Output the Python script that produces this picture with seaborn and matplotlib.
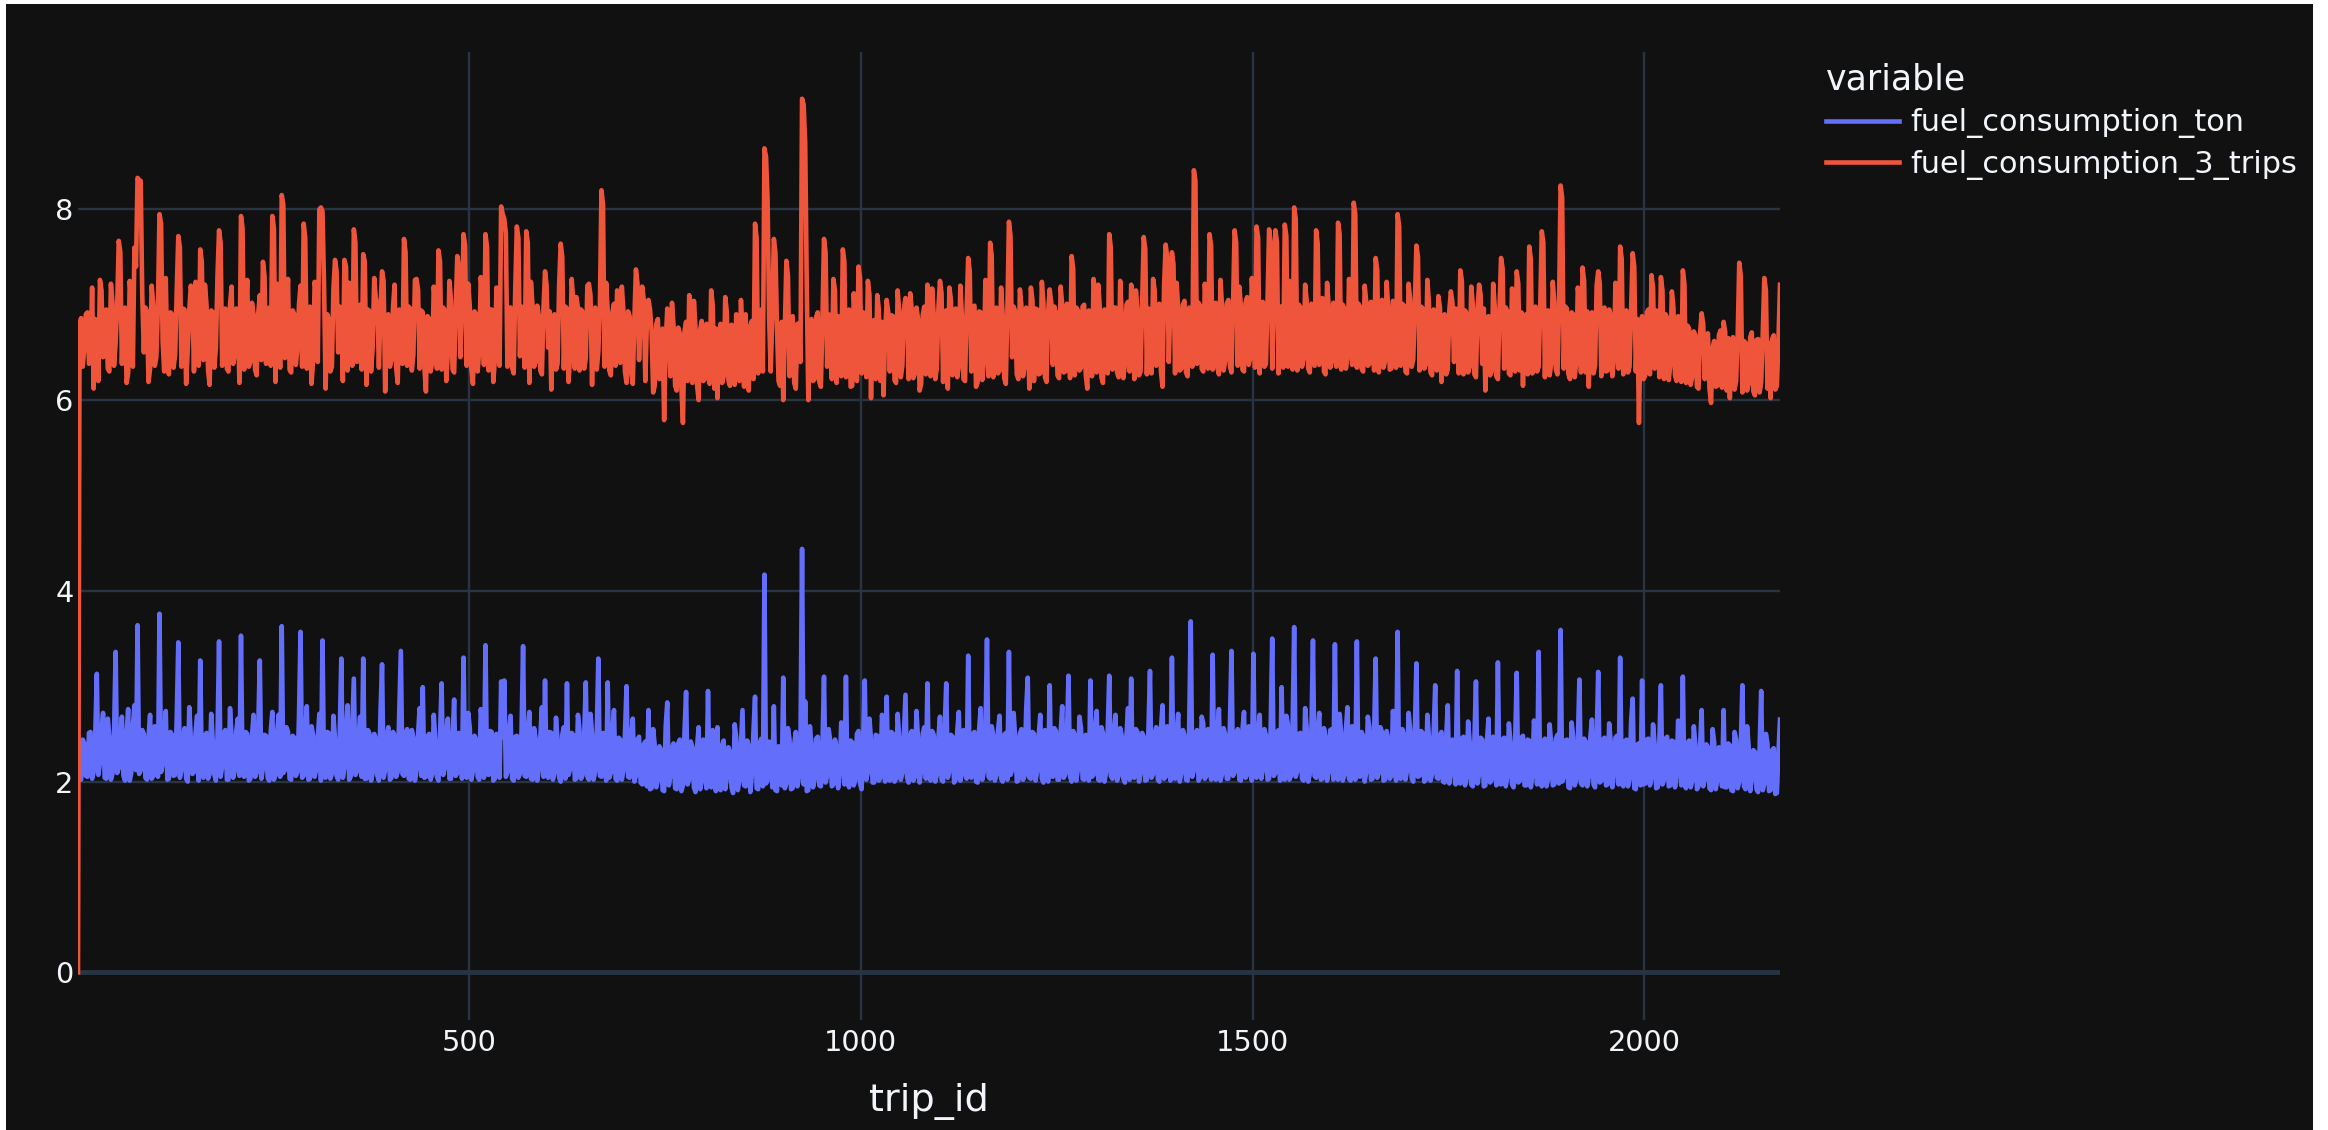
import matplotlib
matplotlib.use("Agg")
import matplotlib.pyplot as plt
from matplotlib.patches import Rectangle
import pandas as pd
import seaborn as sns

# trip ids sampled every 2 trips
trip_id = list(range(1, 2174, 2))

fuel_consumption_ton = [
    2.46, 2.05, 2.02, 2.44, 2.40, 2.06, 2.05, 2.51, 2.52, 2.03, 2.10, 2.48, 3.13, 2.07, 2.20, 2.53, 2.72, 2.04, 2.03, 2.66, 2.47, 2.02, 2.08, 2.50, 3.36, 2.09, 2.14, 2.45, 2.68, 2.06, 2.01, 2.49, 2.76, 2.01, 2.09, 2.57, 2.80, 2.12, 3.64, 2.08,
    2.12, 2.54, 2.50, 2.04, 2.02, 2.47, 2.70, 2.03, 2.06, 2.58, 2.44, 2.05, 3.76, 2.10, 2.18, 2.49, 2.74, 2.02, 2.03, 2.52, 2.49, 2.06, 2.07, 2.67, 3.46, 2.04, 2.12, 2.47, 2.56, 2.03, 2.00, 2.78, 2.45, 2.08, 2.10, 2.51, 2.69, 2.01, 3.27, 2.11,
    2.04, 2.48, 2.51, 2.03, 2.08, 2.71, 2.42, 2.07, 2.01, 2.46, 3.47, 2.05, 2.16, 2.50, 2.54, 2.02, 2.02, 2.77, 2.47, 2.04, 2.11, 2.53, 2.66, 2.06, 3.53, 2.08, 2.05, 2.52, 2.50, 2.01, 2.03, 2.47, 2.70, 2.05, 2.09, 2.56, 3.27, 2.03, 2.14, 2.49,
    2.48, 2.04, 2.01, 2.53, 2.73, 2.02, 2.07, 2.50, 2.70, 2.05, 3.63, 2.09, 2.12, 2.57, 2.52, 2.03, 2.02, 2.48, 2.46, 2.06, 2.10, 2.68, 3.57, 2.04, 2.06, 2.51, 2.79, 2.02, 2.03, 2.58, 2.49, 2.05, 2.13, 2.46, 2.71, 2.01, 3.48, 2.07, 2.04, 2.52,
    2.51, 2.03, 2.08, 2.69, 2.44, 2.06, 2.02, 2.49, 3.29, 2.04, 2.15, 2.52, 2.80, 2.02, 2.05, 2.58, 3.08, 2.07, 2.11, 2.47, 2.68, 2.05, 3.29, 2.03, 2.03, 2.54, 2.50, 2.01, 2.09, 2.50, 2.45, 2.06, 2.01, 2.72, 3.23, 2.04, 2.12, 2.48, 2.57, 2.02,
    2.04, 2.52, 2.48, 2.05, 2.10, 2.74, 3.37, 2.08, 2.06, 2.49, 2.55, 2.03, 2.02, 2.54, 2.46, 2.01, 2.13, 2.50, 2.77, 2.06, 2.99, 2.04, 2.05, 2.47, 2.50, 2.02, 2.08, 2.70, 2.43, 2.05, 2.01, 2.48, 3.03, 2.07, 2.14, 2.53, 2.66, 2.03, 2.03, 2.45,
    2.86, 2.06, 2.09, 2.51, 2.49, 2.03, 3.30, 2.07, 2.04, 2.72, 2.56, 2.02, 2.11, 2.48, 2.44, 2.05, 2.02, 2.76, 2.60, 2.04, 3.43, 2.08, 2.07, 2.53, 2.52, 2.01, 2.03, 2.50, 2.47, 2.04, 3.05, 2.46, 3.06, 2.05, 2.10, 2.52, 2.69, 2.03, 2.01, 2.47,
    2.48, 2.04, 2.08, 2.53, 3.42, 2.06, 2.05, 2.50, 2.73, 2.03, 2.02, 2.56, 2.45, 2.01, 2.12, 2.47, 2.78, 2.05, 3.06, 2.08, 2.04, 2.52, 2.51, 2.02, 2.09, 2.67, 2.43, 2.04, 2.00, 2.49, 2.57, 2.03, 3.03, 2.07, 2.13, 2.51, 2.49, 2.02, 2.03, 2.70,
    2.54, 2.03, 2.07, 2.49, 3.04, 2.05, 2.02, 2.71, 2.50, 2.02, 2.11, 2.48, 3.29, 2.06, 2.05, 2.51, 2.46, 2.01, 3.04, 2.04, 2.09, 2.53, 2.75, 2.03, 2.01, 2.46, 2.44, 2.02, 2.12, 2.50, 3.00, 2.05, 2.04, 2.47, 2.66, 2.00, 2.06, 2.44, 2.47, 1.99,
    1.97, 2.39, 2.42, 1.95, 2.75, 1.92, 1.93, 2.55, 2.38, 1.94, 2.02, 2.37, 2.33, 1.91, 1.90, 2.58, 2.83, 1.96, 2.06, 2.35, 2.40, 1.93, 1.92, 2.40, 2.44, 1.90, 1.96, 2.52, 2.94, 1.97, 2.03, 2.42, 2.36, 1.94, 1.89, 2.36, 2.57, 1.92, 2.00, 2.44,
    2.34, 1.93, 2.95, 1.96, 1.94, 2.54, 2.39, 1.90, 2.57, 1.95, 1.91, 2.38, 2.43, 1.92, 2.05, 2.36, 2.31, 1.94, 1.88, 2.60, 2.46, 1.91, 2.01, 2.39, 2.75, 1.96, 1.95, 2.43, 2.37, 1.89, 2.08, 2.53, 2.89, 1.93, 1.92, 2.40, 2.45, 1.95, 4.17, 1.98,
    2.02, 2.42, 2.40, 1.94, 2.79, 1.91, 1.90, 2.37, 2.36, 1.96, 3.09, 1.93, 1.98, 2.56, 2.44, 1.92, 1.93, 2.39, 2.52, 1.95, 2.05, 2.43, 4.44, 1.97, 2.84, 1.90, 1.91, 2.58, 2.38, 1.94, 2.03, 2.45, 2.47, 1.96, 1.95, 2.38, 3.10, 1.99, 2.06, 2.55,
    2.42, 1.95, 1.97, 2.44, 2.35, 1.93, 2.08, 2.62, 2.49, 1.97, 3.10, 2.00, 1.94, 2.43, 2.41, 1.96, 2.02, 2.50, 2.53, 1.98, 1.92, 2.45, 3.06, 2.02, 2.10, 2.66, 2.44, 1.99, 1.99, 2.49, 2.48, 2.01, 2.04, 2.70, 2.55, 2.00, 2.89, 2.03, 2.01, 2.52,
    2.50, 2.00, 2.03, 2.71, 2.46, 2.02, 2.09, 2.51, 2.91, 2.04, 1.99, 2.48, 2.53, 2.01, 2.05, 2.74, 2.44, 1.99, 2.12, 2.50, 2.57, 2.03, 3.03, 2.05, 2.01, 2.53, 2.49, 2.00, 2.07, 2.46, 2.68, 2.02, 2.00, 2.56, 3.03, 2.04, 2.11, 2.49, 2.47, 1.99,
    2.02, 2.52, 2.73, 2.01, 2.08, 2.54, 2.45, 2.03, 3.32, 2.06, 2.04, 2.50, 2.52, 2.00, 1.99, 2.55, 2.77, 2.02, 2.10, 2.47, 3.49, 2.05, 2.03, 2.58, 2.48, 2.01, 2.07, 2.53, 2.69, 2.03, 2.00, 2.49, 2.51, 2.02, 3.36, 2.07, 2.12, 2.72, 2.46, 2.00,
    2.01, 2.50, 2.55, 2.02, 2.06, 2.75, 3.09, 2.04, 2.03, 2.52, 2.50, 2.01, 2.11, 2.48, 2.70, 2.03, 1.99, 2.54, 2.47, 2.00, 3.01, 2.06, 2.05, 2.56, 2.53, 2.02, 2.02, 2.51, 2.79, 2.04, 2.08, 2.47, 3.11, 2.05, 2.00, 2.53, 2.49, 2.01, 2.13, 2.68,
    2.56, 2.03, 2.02, 2.49, 2.45, 2.01, 3.06, 2.05, 2.07, 2.54, 2.74, 2.02, 2.01, 2.57, 2.51, 2.00, 2.10, 2.50, 3.11, 2.06, 2.03, 2.52, 2.70, 2.01, 2.06, 2.56, 2.48, 2.03, 1.99, 2.48, 2.77, 2.02, 3.08, 2.05, 2.04, 2.55, 2.52, 2.00, 2.09, 2.51,
    2.47, 2.01, 2.02, 2.53, 3.16, 2.04, 2.08, 2.50, 2.57, 2.02, 2.00, 2.55, 2.80, 2.03, 2.05, 2.58, 2.50, 2.01, 3.30, 2.06, 2.03, 2.51, 2.71, 2.00, 2.09, 2.54, 2.48, 2.02, 2.01, 2.57, 3.68, 2.05, 2.12, 2.49, 2.54, 2.01, 2.04, 2.68, 2.61, 2.03,
    2.06, 2.55, 2.52, 2.02, 3.33, 2.05, 2.02, 2.53, 2.76, 2.01, 2.08, 2.56, 2.49, 2.03, 2.03, 2.59, 3.37, 2.06, 2.10, 2.50, 2.55, 2.02, 2.01, 2.54, 2.73, 2.04, 2.07, 2.58, 2.50, 2.01, 3.34, 2.07, 2.04, 2.52, 2.70, 2.03, 2.12, 2.55, 2.48, 2.02,
    2.03, 2.56, 3.50, 2.06, 2.09, 2.52, 2.54, 2.01, 2.99, 2.04, 2.02, 2.69, 2.60, 2.02, 2.06, 2.57, 3.62, 2.05, 2.11, 2.50, 2.51, 2.03, 2.01, 2.77, 2.56, 2.00, 2.08, 2.53, 3.48, 2.06, 2.04, 2.51, 2.72, 2.02, 2.03, 2.56, 2.47, 2.01, 2.10, 2.54,
    2.55, 2.02, 3.44, 2.05, 2.02, 2.71, 2.50, 2.01, 2.07, 2.54, 2.78, 2.03, 2.01, 2.58, 2.53, 2.02, 3.47, 2.06, 2.05, 2.52, 2.48, 2.00, 2.10, 2.68, 2.57, 2.02, 2.03, 2.50, 3.29, 2.04, 2.09, 2.57, 2.52, 2.01, 2.02, 2.53, 2.45, 2.03, 2.06, 2.74,
    2.58, 2.01, 3.57, 2.04, 2.03, 2.55, 2.49, 2.02, 2.11, 2.72, 2.54, 2.03, 2.00, 2.52, 3.24, 2.05, 2.06, 2.53, 2.51, 2.00, 2.02, 2.70, 2.46, 2.01, 2.08, 2.50, 3.01, 2.04, 2.03, 2.48, 2.52, 2.00, 1.99, 2.46, 2.80, 1.98, 2.07, 2.44, 2.43, 1.97,
    3.16, 1.99, 1.98, 2.45, 2.47, 1.96, 2.04, 2.63, 2.41, 1.97, 1.95, 2.43, 3.05, 1.98, 2.08, 2.46, 2.44, 1.95, 1.96, 2.42, 2.66, 1.99, 2.02, 2.47, 2.39, 1.96, 3.25, 1.98, 1.97, 2.44, 2.46, 1.95, 2.05, 2.61, 2.42, 1.97, 1.94, 2.41, 3.14, 1.99,
    2.01, 2.46, 2.48, 1.96, 1.96, 2.44, 2.43, 1.94, 2.06, 2.64, 2.51, 1.97, 3.36, 1.99, 1.95, 2.42, 2.45, 1.95, 2.03, 2.60, 2.40, 1.96, 1.97, 2.45, 2.49, 1.98, 3.59, 2.00, 2.04, 2.43, 2.44, 1.94, 1.93, 2.62, 2.47, 1.96, 2.02, 2.41, 3.07, 1.98,
    1.96, 2.45, 2.42, 1.95, 2.05, 2.47, 2.65, 1.97, 1.94, 2.43, 3.15, 1.99, 2.01, 2.44, 2.46, 1.96, 1.97, 2.61, 2.41, 1.94, 2.07, 2.46, 2.48, 1.97, 3.30, 1.98, 1.95, 2.42, 2.44, 1.95, 2.03, 2.63, 2.87, 1.93, 1.92, 2.39, 2.40, 1.96, 3.06, 1.97,
    1.98, 2.44, 2.45, 1.96, 2.04, 2.60, 2.39, 1.93, 1.94, 2.41, 3.01, 1.97, 2.02, 2.45, 2.47, 1.95, 1.96, 2.43, 2.42, 1.94, 2.06, 2.64, 2.49, 1.96, 3.10, 1.98, 1.93, 2.40, 2.43, 1.94, 2.01, 2.58, 2.38, 1.92, 1.95, 2.37, 2.75, 1.95, 2.03, 2.39,
    2.36, 1.93, 1.91, 2.55, 2.41, 1.92, 2.02, 2.36, 2.34, 1.95, 2.75, 1.94, 1.94, 2.40, 2.38, 1.91, 1.90, 2.52, 2.44, 1.93, 2.00, 2.38, 3.01, 1.95, 1.92, 2.58, 2.37, 1.90, 2.04, 2.33, 2.31, 1.92, 1.89, 2.36, 2.95, 1.91, 1.98, 2.50, 2.40, 1.90,
    1.91, 2.33, 2.35, 1.87, 1.88, 2.30, 2.65,
]

fuel_consumption_3_trips = [
    0.00, 6.80, 6.86, 6.35, 6.55, 6.90, 6.92, 6.38, 6.40, 7.18, 6.12, 6.85, 6.80, 6.20, 7.26, 7.15, 6.45, 6.92, 6.95, 6.33, 6.30, 7.22, 7.02, 6.36, 6.60, 6.98, 7.67, 7.55, 6.38, 6.94, 6.97, 6.18, 6.28, 7.25, 7.05, 6.35, 7.60, 7.40, 8.33, 8.30,
    8.30, 7.10, 6.50, 6.97, 6.93, 6.19, 6.33, 7.20, 7.00, 6.36, 6.45, 6.99, 7.95, 7.85, 6.62, 6.30, 7.28, 6.40, 6.27, 6.92, 6.90, 6.34, 6.48, 7.15, 7.72, 7.60, 6.35, 6.96, 6.95, 6.17, 6.52, 6.94, 7.20, 7.05, 6.30, 7.24, 6.88, 6.36, 7.58, 7.45,
    6.42, 7.21, 7.00, 6.31, 6.16, 6.94, 6.92, 6.34, 6.55, 7.30, 7.78, 7.65, 6.36, 6.95, 6.96, 6.33, 6.30, 7.00, 7.19, 6.38, 6.47, 6.96, 6.88, 6.18, 7.93, 7.80, 6.32, 6.93, 7.26, 6.35, 6.40, 7.02, 6.90, 6.32, 6.26, 6.91, 7.10, 6.42, 7.45, 7.30,
    6.38, 6.95, 6.97, 6.36, 7.93, 7.80, 6.19, 7.22, 6.92, 6.34, 8.15, 8.05, 6.44, 6.99, 7.27, 6.32, 6.29, 6.94, 6.90, 6.37, 6.55, 7.00, 7.20, 6.35, 7.85, 7.70, 6.33, 6.96, 6.98, 6.17, 6.41, 7.24, 7.12, 6.40, 8.00, 8.02, 7.98, 7.20, 6.12, 6.90,
    6.85, 6.30, 6.35, 7.17, 7.47, 7.35, 6.50, 6.98, 6.95, 6.20, 7.47, 7.40, 6.31, 7.23, 7.10, 6.36, 7.79, 7.65, 6.40, 6.99, 7.00, 6.32, 7.53, 7.45, 6.16, 6.95, 6.93, 6.30, 6.55, 7.28, 7.07, 6.98, 6.34, 6.94, 7.35, 7.25, 6.09, 6.85, 6.90, 6.35,
    6.42, 6.97, 7.21, 6.34, 6.18, 6.95, 6.88, 6.38, 7.69, 7.55, 6.36, 6.98, 6.96, 6.31, 6.48, 7.26, 7.27, 7.15, 6.33, 6.94, 6.92, 6.35, 6.09, 6.88, 6.85, 6.30, 6.40, 7.19, 7.00, 6.33, 7.57, 7.45, 6.32, 6.97, 6.94, 6.20, 6.50, 7.25, 7.05, 6.32,
    6.29, 6.94, 7.51, 7.40, 6.45, 6.96, 7.74, 7.62, 6.36, 7.22, 6.98, 6.33, 6.17, 6.93, 6.90, 6.30, 6.52, 7.29, 7.06, 6.37, 7.74, 7.60, 6.31, 6.95, 6.95, 6.19, 6.43, 7.18, 7.02, 6.36, 8.03, 7.95, 7.90, 7.75, 6.35, 6.97, 6.97, 6.34, 6.28, 7.16,
    7.82, 7.70, 6.46, 6.98, 6.93, 6.34, 7.77, 7.65, 6.18, 7.24, 7.00, 6.35, 6.40, 6.99, 6.89, 6.31, 6.27, 6.95, 7.35, 7.20, 6.55, 6.93, 6.11, 6.80, 6.90, 6.32, 6.38, 7.21, 7.64, 7.50, 6.33, 6.98, 6.96, 6.19, 6.47, 7.27, 7.04, 6.33, 7.08, 6.97,
    6.31, 6.95, 6.92, 6.33, 6.44, 7.20, 7.22, 7.10, 6.16, 6.94, 6.97, 6.32, 6.50, 6.98, 8.20, 8.05, 6.35, 7.23, 6.93, 6.31, 6.26, 6.92, 7.01, 6.36, 7.15, 7.05, 6.39, 7.19, 6.94, 6.30, 6.18, 6.93, 6.88, 6.28, 6.17, 6.85, 7.37, 7.22, 6.42, 6.90,
    7.19, 7.05, 6.20, 6.82, 7.05, 6.95, 6.72, 6.08, 6.15, 6.80, 6.85, 6.22, 6.30, 6.75, 5.79, 6.60, 6.96, 6.85, 6.25, 7.02, 6.78, 6.15, 6.10, 6.76, 6.70, 6.14, 5.76, 6.72, 6.82, 6.20, 7.10, 7.00, 6.18, 7.04, 6.75, 6.16, 6.00, 6.74, 6.83, 6.20,
    6.22, 6.80, 6.74, 6.17, 7.15, 7.00, 6.12, 6.75, 6.02, 6.70, 6.80, 6.18, 6.25, 7.08, 6.92, 6.21, 6.15, 6.79, 6.77, 6.16, 6.90, 6.25, 6.20, 7.05, 6.72, 6.14, 6.90, 6.26, 6.10, 6.78, 6.83, 6.22, 7.85, 7.70, 6.28, 6.88, 6.95, 6.30, 8.64, 8.55,
    8.10, 6.85, 6.30, 6.88, 7.69, 7.55, 6.78, 6.20, 6.15, 6.82, 6.00, 6.75, 7.46, 7.30, 6.25, 6.86, 6.88, 6.18, 6.12, 6.80, 6.80, 6.40, 9.16, 9.10, 8.70, 7.20, 6.00, 6.78, 6.85, 6.20, 6.22, 6.87, 6.92, 6.19, 6.14, 6.83, 7.69, 7.55, 6.35, 6.90,
    6.80, 6.22, 7.27, 7.15, 6.18, 6.88, 6.86, 6.25, 7.58, 7.45, 6.24, 6.90, 6.95, 6.14, 6.15, 7.12, 6.78, 6.20, 7.40, 7.28, 6.28, 6.92, 6.90, 6.24, 7.25, 7.10, 6.02, 6.75, 6.84, 6.22, 7.10, 6.95, 6.20, 6.82, 6.05, 6.70, 7.05, 6.92, 6.30, 6.89,
    6.88, 6.21, 6.18, 7.15, 6.92, 6.24, 6.36, 6.95, 7.07, 6.96, 6.22, 7.12, 6.95, 6.23, 6.28, 6.97, 6.85, 6.10, 6.17, 6.89, 6.98, 6.27, 7.21, 7.10, 6.25, 7.17, 6.90, 6.22, 6.33, 6.96, 7.25, 7.12, 6.19, 6.92, 6.94, 6.12, 7.18, 7.05, 6.26, 6.94,
    6.96, 6.24, 6.35, 7.20, 6.87, 6.22, 6.20, 6.94, 7.49, 7.35, 6.30, 6.97, 6.99, 6.14, 6.18, 6.93, 6.92, 6.21, 6.40, 7.26, 6.86, 6.25, 7.65, 7.52, 6.24, 6.96, 6.97, 6.28, 6.31, 7.18, 6.90, 6.23, 6.17, 6.91, 7.87, 7.72, 6.45, 6.98, 6.93, 6.27,
    6.22, 7.16, 6.98, 6.25, 6.35, 6.97, 6.88, 6.12, 7.18, 7.05, 6.20, 6.96, 6.95, 6.27, 6.28, 7.24, 7.02, 6.24, 6.19, 6.92, 7.16, 7.02, 6.37, 6.98, 6.91, 6.26, 6.23, 7.19, 6.99, 6.29, 6.30, 7.01, 6.86, 6.23, 7.51, 7.38, 6.26, 6.97, 6.94, 6.31,
    6.34, 6.98, 7.00, 6.27, 6.12, 6.94, 6.89, 6.25, 7.27, 7.12, 6.29, 7.21, 6.96, 6.24, 6.18, 6.95, 6.90, 6.28, 7.74, 7.60, 6.32, 6.97, 6.97, 6.29, 6.24, 7.25, 6.88, 6.23, 6.38, 7.00, 7.03, 6.30, 7.21, 7.08, 6.22, 7.15, 6.95, 6.26, 6.30, 6.99,
    7.71, 7.58, 6.27, 6.96, 6.92, 6.28, 7.27, 7.15, 6.36, 6.99, 7.01, 6.30, 6.14, 7.20, 7.63, 7.50, 6.40, 7.01, 7.55, 7.42, 6.28, 7.23, 6.96, 6.31, 6.33, 7.00, 7.04, 6.29, 6.25, 6.97, 6.90, 6.35, 8.41, 8.30, 6.38, 7.02, 6.99, 6.33, 6.30, 7.22,
    6.94, 6.33, 7.74, 7.62, 6.32, 7.00, 7.02, 6.34, 6.27, 7.26, 6.97, 6.31, 6.42, 7.01, 7.05, 6.36, 6.29, 6.99, 7.78, 7.65, 6.36, 7.19, 6.99, 6.32, 6.30, 7.02, 7.08, 6.37, 6.45, 7.28, 6.93, 6.34, 7.82, 7.70, 6.28, 7.01, 7.03, 6.35, 6.38, 7.03,
    7.79, 7.65, 6.33, 7.02, 7.78, 7.66, 6.28, 6.98, 6.98, 6.34, 7.84, 7.72, 6.35, 7.25, 7.06, 6.32, 8.02, 7.90, 6.31, 7.00, 6.97, 6.35, 6.44, 7.21, 7.04, 6.33, 6.29, 7.01, 6.95, 6.36, 7.78, 7.64, 6.37, 7.02, 7.07, 6.30, 6.27, 7.23, 6.99, 6.34,
    6.40, 7.02, 7.01, 6.35, 7.86, 7.74, 6.32, 7.00, 6.96, 6.33, 6.45, 7.27, 7.08, 6.37, 8.07, 7.95, 6.34, 7.01, 6.98, 6.33, 6.30, 7.20, 7.03, 6.36, 6.38, 7.03, 6.94, 6.31, 7.49, 7.36, 6.29, 7.00, 7.05, 6.34, 6.41, 7.24, 6.97, 6.32, 6.33, 7.04,
    7.02, 6.34, 7.95, 7.82, 6.36, 7.01, 6.99, 6.30, 6.28, 7.22, 7.06, 6.35, 6.43, 7.00, 7.62, 7.50, 6.31, 6.98, 6.96, 6.33, 6.37, 7.26, 7.01, 6.29, 6.26, 6.95, 6.92, 6.31, 7.09, 6.97, 6.19, 6.88, 6.90, 6.27, 6.32, 6.94, 7.14, 7.02, 6.40, 6.96,
    6.95, 6.28, 7.36, 7.25, 6.27, 6.94, 6.91, 6.29, 6.35, 7.19, 7.00, 6.27, 6.24, 6.95, 7.21, 7.10, 6.38, 6.96, 6.10, 6.85, 6.88, 6.26, 6.30, 7.22, 6.97, 6.25, 6.22, 6.94, 7.49, 7.38, 6.33, 6.97, 6.93, 6.28, 6.26, 7.17, 7.02, 6.30, 7.35, 7.22,
    6.31, 6.92, 6.15, 6.86, 6.90, 6.27, 7.61, 7.48, 6.28, 6.95, 6.98, 6.30, 6.35, 6.97, 7.77, 7.65, 6.24, 6.93, 6.94, 6.26, 6.38, 7.24, 7.03, 6.32, 6.27, 6.96, 8.25, 8.12, 6.33, 6.98, 6.96, 6.27, 6.22, 6.92, 6.90, 6.24, 6.40, 7.18, 7.00, 6.29,
    7.39, 7.25, 6.29, 6.93, 6.14, 6.80, 6.92, 6.28, 6.36, 7.20, 7.35, 7.22, 6.25, 6.94, 6.97, 6.30, 6.31, 6.95, 6.89, 6.25, 6.42, 7.23, 7.02, 6.33, 7.61, 7.48, 6.27, 6.92, 6.94, 6.29, 6.35, 6.96, 7.54, 7.40, 6.30, 6.85, 5.76, 6.70, 6.88, 6.22,
    6.26, 6.92, 6.95, 6.27, 7.31, 7.18, 6.33, 6.94, 6.90, 6.24, 7.29, 7.15, 6.22, 6.90, 6.86, 6.21, 6.37, 7.14, 6.97, 6.26, 6.20, 6.88, 6.84, 6.19, 7.36, 7.22, 6.18, 6.78, 6.75, 6.16, 6.25, 6.72, 6.68, 6.14, 6.12, 6.70, 6.91, 6.80, 6.22, 6.69,
    6.70, 6.12, 5.97, 6.55, 6.62, 6.14, 6.15, 6.68, 6.73, 6.13, 6.82, 6.72, 6.10, 6.65, 6.02, 6.58, 6.66, 6.11, 6.20, 6.67, 7.44, 7.30, 6.08, 6.62, 6.60, 6.10, 6.17, 6.66, 6.71, 6.09, 6.05, 6.63, 6.64, 6.08, 6.19, 6.70, 7.28, 7.15, 6.12, 6.60,
    6.02, 6.64, 6.68, 6.11, 6.15, 6.62, 7.21,
]

series_names = ["fuel_consumption_ton", "fuel_consumption_3_trips"]
series_colors = ["#636efa", "#EF553B"]
x_ticks = [500, 1000, 1500, 2000]
y_ticks = [0, 2, 4, 6, 8]

BG = "#111111"
GRID = "#283442"
TEXT = "#f2f5fa"

W, H, DPI = 2328, 1130, 100
PT = 72 / DPI  # points per pixel

df = pd.DataFrame({
    "trip_id": trip_id,
    series_names[0]: fuel_consumption_ton,
    series_names[1]: fuel_consumption_3_trips,
})
long_df = df.melt(id_vars="trip_id", value_vars=series_names,
                  var_name="variable", value_name="value")

fig = plt.figure(figsize=(W / DPI, H / DPI), dpi=DPI)
fig.patch.set_facecolor("white")
fig.add_artist(Rectangle((6 / W, 0), (2313 - 6) / W, (H - 4) / H,
                         transform=fig.transFigure, facecolor=BG,
                         edgecolor="none", zorder=-10))

ax = fig.add_axes([78 / W, (H - 1020) / H, 1702 / W, 968 / H])
ax.set_facecolor(BG)

sns.lineplot(data=long_df, x="trip_id", y="value", hue="variable",
             palette=dict(zip(series_names, series_colors)),
             estimator=None, sort=False, linewidth=4.6 * PT, ax=ax, zorder=3)

ax.set_xlim(1, 2173)
ax.set_ylim(-0.5, 9.65)
ax.set_xticks(x_ticks)
ax.set_yticks(y_ticks)
ax.grid(True, color=GRID, linewidth=2.4 * PT)
ax.set_axisbelow(True)
ax.axhline(0, color=GRID, linewidth=4.8 * PT, zorder=1.5)
for s in ax.spines.values():
    s.set_visible(False)

ax.tick_params(axis="both", length=0, labelsize=20.7, labelcolor=TEXT)
ax.tick_params(axis="y", pad=4.5 * PT)
ax.tick_params(axis="x", pad=9 * PT)

ax.set_ylabel("")
ax.set_xlabel("trip_id", fontsize=27.5, color=TEXT, va="center")
ax.xaxis.set_label_coords(0.5, -(1101 - 1020) / 968)

old = ax.get_legend()
handles = list(old.legend_handles)
labels = [t.get_text() for t in old.get_texts()]
old.remove()
leg = ax.legend(handles, labels, title="variable", loc="upper left",
                bbox_to_anchor=(1826 / W, 1 - 63 / H),
                bbox_transform=fig.transFigure, frameon=False,
                fontsize=21.9, title_fontsize=25, handlelength=2.4,
                handletextpad=0.37, labelspacing=0.37, borderpad=0,
                borderaxespad=0, alignment="left")
leg.get_title().set_color(TEXT)
for t in leg.get_texts():
    t.set_color(TEXT)
for ln, c in zip(leg.get_lines(), series_colors):
    ln.set_linewidth(4.6 * PT)
    ln.set_color(c)

fig.savefig("out.png", dpi=DPI, facecolor=fig.get_facecolor())
